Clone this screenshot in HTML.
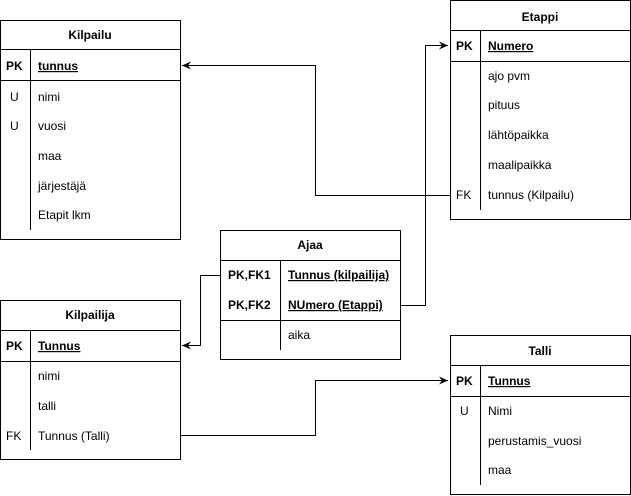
<!DOCTYPE html>
<html><head><meta charset="utf-8"><style>
html,body{margin:0;padding:0;background:#fff;}
svg{display:block;font-family:"Liberation Sans",Arial,sans-serif;font-size:12px;}
.t{font-weight:bold;text-anchor:middle;}
.b{font-weight:bold;}
</style></head><body>
<svg width="631" height="496" viewBox="0 0 631 496" xmlns="http://www.w3.org/2000/svg">
<defs><marker id="a" markerWidth="10" markerHeight="10" refX="9" refY="5" orient="auto" markerUnits="userSpaceOnUse"><path d="M0,1 L9,5 L0,9 L3,5 Z" fill="#000"/></marker></defs>
<g fill="none" stroke="#000" stroke-width="1">
<!-- connectors -->
<path d="M450.5,195.5 H315.5 V65.5 H182" marker-end="url(#a)"/>
<path d="M220.5,275.5 H200.5 V345.5 H182" marker-end="url(#a)"/>
<path d="M400.5,305.5 H425.5 V45.5 H448" marker-end="url(#a)"/>
<path d="M180.5,435.5 H315.5 V380.5 H448" marker-end="url(#a)"/>
<!-- Kilpailu -->
<rect x="0.5" y="20.5" width="180" height="219"/>
<path d="M0.5,49.5 H180.5 M0.5,80.5 H180.5 M30.5,49.5 V230"/>
<!-- Etappi -->
<rect x="450.5" y="0.5" width="180" height="219"/>
<path d="M450.5,30.5 H630.5 M450.5,61.5 H630.5 M480.5,30.5 V210"/>
<!-- Ajaa -->
<rect x="220.5" y="230.5" width="180" height="129"/>
<path d="M220.5,260.5 H400.5 M220.5,320.5 H400.5 M280.5,260.5 V350"/>
<!-- Kilpailija -->
<rect x="0.5" y="300.5" width="180" height="159"/>
<path d="M0.5,330.5 H180.5 M0.5,361.5 H180.5 M30.5,330.5 V450"/>
<!-- Talli -->
<rect x="450.5" y="335.5" width="180" height="159"/>
<path d="M450.5,365.5 H630.5 M450.5,396.5 H630.5 M480.5,365.5 V485"/>
</g>
<g fill="#000">
<text class="t" x="90" y="39">Kilpailu</text>
<text class="b" x="6" y="70">PK</text><text class="b" x="38" y="70" text-decoration="underline">tunnus</text>
<text x="10" y="101">U</text><text x="38" y="101">nimi</text>
<text x="10" y="130">U</text><text x="38" y="130">vuosi</text>
<text x="38" y="160">maa</text>
<text x="38" y="190">järjestäjä</text>
<text x="38" y="219">Etapit lkm</text>

<text class="t" x="540" y="21">Etappi</text>
<text class="b" x="456" y="50">PK</text><text class="b" x="488" y="50" text-decoration="underline">Numero</text>
<text x="488" y="80">ajo pvm</text>
<text x="488" y="109">pituus</text>
<text x="488" y="139">lähtöpaikka</text>
<text x="488" y="169">maalipaikka</text>
<text x="456" y="199">FK</text><text x="488" y="199">tunnus (Kilpailu)</text>

<text class="t" x="310" y="249">Ajaa</text>
<text class="b" x="228" y="279">PK,FK1</text><text class="b" x="288" y="279" text-decoration="underline">Tunnus (kilpailija)</text>
<text class="b" x="228" y="309">PK,FK2</text><text class="b" x="288" y="309" text-decoration="underline">NUmero (Etappi)</text>
<text x="288" y="339">aika</text>

<text class="t" x="90" y="319">Kilpailija</text>
<text class="b" x="6" y="350">PK</text><text class="b" x="38" y="350" text-decoration="underline">Tunnus</text>
<text x="38" y="380">nimi</text>
<text x="38" y="410">talli</text>
<text x="6" y="440">FK</text><text x="38" y="440">Tunnus (Talli)</text>

<text class="t" x="540" y="355">Talli</text>
<text class="b" x="456" y="385">PK</text><text class="b" x="488" y="385" text-decoration="underline">Tunnus</text>
<text x="460" y="415">U</text><text x="488" y="415">Nimi</text>
<text x="488" y="445">perustamis_vuosi</text>
<text x="488" y="474">maa</text>
</g>
</svg>
</body></html>
